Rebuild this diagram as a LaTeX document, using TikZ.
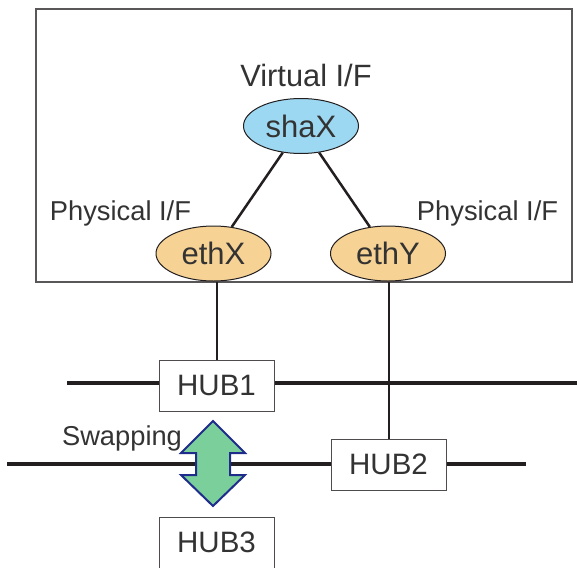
\documentclass[tikz,border=0pt]{standalone}
\usepackage{fontspec}
\setmainfont{Liberation Sans}
\usetikzlibrary{shapes.geometric}
\definecolor{inkc}{HTML}{231F20}
\definecolor{txtc}{HTML}{333333}
\definecolor{shac}{HTML}{9DD8F2}
\definecolor{ethc}{HTML}{F6D294}
\definecolor{arrf}{HTML}{7ACF9B}
\definecolor{arrb}{HTML}{1F2C8C}
\tikzset{
  ifell/.style={ellipse, draw=inkc, line width=1pt, minimum width=115pt, minimum height=55pt, inner sep=0pt, text=txtc, font=\fontsize{31}{32}\selectfont},
  hubbox/.style={rectangle, draw=inkc!80, line width=1pt, fill=white, minimum width=115pt, minimum height=51pt, inner sep=0pt, text=txtc, font=\fontsize{29.5}{30}\selectfont},
  lbl/.style={text=txtc, inner sep=0pt, font=\fontsize{27.3}{28}\selectfont},
  bus/.style={draw=inkc, line width=4.5pt},
  link/.style={draw=inkc, line width=2.5pt},
}
\begin{document}
\begin{tikzpicture}[x=1pt,y=-1pt]
\useasboundingbox (0,0) rectangle (577,567);
\draw[draw=inkc!75, line width=1.5pt] (36,9) rectangle (572,282);
\node[ifell, fill=shac] (shax) at (301,126) {shaX};
\node[ifell, fill=ethc] (ethx) at (213.5,253.5) {ethX};
\node[ifell, fill=ethc] (ethy) at (388,253.5) {ethY};
\node[lbl, font=\fontsize{30.8}{31}\selectfont] (vif) at (306,75) {Virtual I/F};
\node[lbl] (pifl) at (120.5,213) {Physical I/F};
\node[lbl] (pifr) at (487.5,213) {Physical I/F};
\draw[link] (shax) -- (ethx);
\draw[link] (shax) -- (ethy);
% buses
\coordinate (b1w) at (67,383);
\coordinate (b1e) at (577,383);
\coordinate (b2w) at (7,464);
\coordinate (b2e) at (526,464);
\draw[bus] (b1w) -- (b1e);
\draw[bus] (b2w) -- (b2e);
\node[hubbox] (hub1) at (216.5,385.5) {HUB1};
\node[hubbox] (hub2) at (388.5,464.5) {HUB2};
\node[hubbox] (hub3) at (216.5,542.5) {HUB3};
\draw[link, line width=2pt] (ethx.south -| hub1.north) -- (hub1.north);
\draw[link, line width=2pt] (ethy.south -| hub2.north) -- (hub2.north);
\node[lbl] (swap) at (122,438) {Swapping};
% swap arrow
\filldraw[fill=arrf, draw=arrb, line width=2pt, line join=miter]
  (213,421) -- (245,453) -- (230,453) -- (230,475) -- (245,475) -- (213,506)
  -- (181,475) -- (196,475) -- (196,453) -- (181,453) -- cycle;
\end{tikzpicture}
\end{document}
